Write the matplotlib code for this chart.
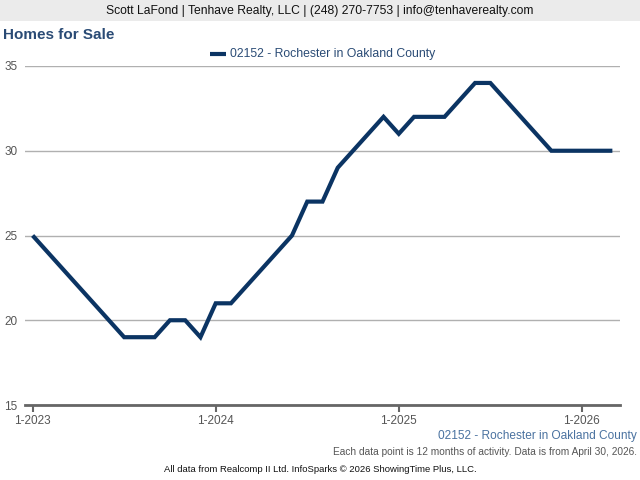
import matplotlib
matplotlib.use("Agg")
import matplotlib.pyplot as plt
from matplotlib.patches import Rectangle
from matplotlib.lines import Line2D

plt.rcParams['font.family'] = ['Liberation Sans', 'DejaVu Sans']

# Monthly values, Jan 2023 .. Mar 2026
months = list(range(39))  # month index, 0 = Jan 2023
values = [25, 24, 23, 22, 21, 20, 19, 19, 19, 20, 20, 19,
          21, 21, 22, 23, 24, 25, 27, 27, 29, 30, 31, 32,
          31, 32, 32, 32, 33, 34, 34, 33, 32, 31, 30, 30,
          30, 30, 30]
tick_pos = [0, 12, 24, 36]
tick_labels = ["1-2023", "1-2024", "1-2025", "1-2026"]
yticks = [15, 20, 25, 30, 35]
series_name = "02152 - Rochester in Oakland County"

W, H = 640, 480
fig = plt.figure(figsize=(6.4, 4.8), dpi=100)

# header band
fig.patches.append(Rectangle((0, 1 - 21 / H), 1, 21 / H, transform=fig.transFigure,
                             facecolor="#ebebeb", edgecolor="none", zorder=0))
fig.text(0.5, 1 - 11 / H, "Scott LaFond | Tenhave Realty, LLC | (248) 270-7753 | info@tenhaverealty.com",
         ha="center", va="center", fontsize=8.7, color="#111111")
fig.text(3 / W, 1 - 35 / H, "Homes for Sale", ha="left", va="center", fontsize=11,
         fontweight="bold", color="#2a4b75")

left, right, top, bottom = 25, 620, 66, 405
ax = fig.add_axes([left / W, 1 - bottom / H, (right - left) / W, (bottom - top) / H])
ax.plot(months, values, color="#0b3463", linewidth=3.0, solid_joinstyle="miter",
        solid_capstyle="butt", zorder=3)
ax.set_xlim(-0.5, 38.5)
ax.set_ylim(15, 35)
ax.set_yticks(yticks)
ax.set_yticklabels([str(v) for v in yticks])
ax.yaxis.grid(True, color="#b0b0b0", linewidth=1.0)
ax.set_axisbelow(True)
for s in ["top", "right", "left"]:
    ax.spines[s].set_visible(False)
ax.spines["bottom"].set_color("#666666")
ax.spines["bottom"].set_linewidth(2.0)
ax.tick_params(axis="y", length=0, pad=15, labelsize=8.5, labelcolor="#555555")
for lab in ax.get_yticklabels():
    lab.set_horizontalalignment("left")
ax.set_xticks(tick_pos)
ax.set_xticklabels(tick_labels)
ax.tick_params(axis="x", length=5, width=1.5, color="#666666", direction="out",
               pad=2, labelsize=8.5, labelcolor="#555555")

# legend
leg_y = 1 - 54 / H
fig.lines.append(Line2D([210 / W, 226 / W], [leg_y, leg_y], transform=fig.transFigure,
                        color="#0b3463", linewidth=3, solid_capstyle="butt"))
fig.text(230 / W, leg_y, series_name, ha="left", va="center", fontsize=8.8, color="#2a4b75")

# footer texts
fig.text(637 / W, 1 - 436 / H, series_name, ha="right", va="center", fontsize=8.6, color="#4a72a0")
fig.text(637 / W, 1 - 452 / H, "Each data point is 12 months of activity. Data is from April 30, 2026.",
         ha="right", va="center", fontsize=7.3, color="#555555")
fig.text(320 / W, 1 - 469 / H, "All data from Realcomp II Ltd. InfoSparks \u00a9 2026 ShowingTime Plus, LLC.",
         ha="center", va="center", fontsize=6.8, color="#111111")

fig.savefig("out.png", dpi=100)
